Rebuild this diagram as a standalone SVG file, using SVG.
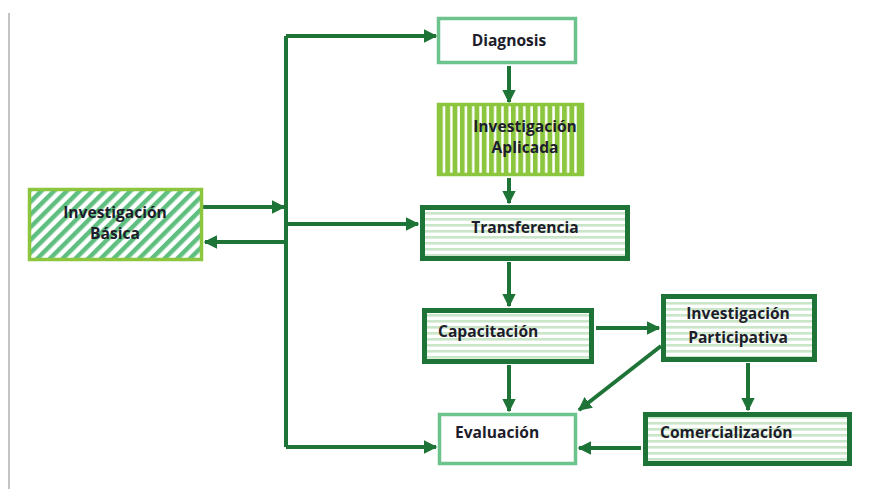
<svg xmlns="http://www.w3.org/2000/svg" width="871" height="489" viewBox="0 0 871 489">
  <defs>
    <!-- diagonal hatch for the basic research box -->
    <pattern id="hatchDiag" patternUnits="userSpaceOnUse" width="9" height="9" patternTransform="rotate(45)">
      <rect width="9" height="9" fill="#ffffff"/>
      <rect width="4.5" height="9" fill="#5fbf80"/>
    </pattern>
    <!-- vertical stripes for the applied research box -->
    <pattern id="stripesV" patternUnits="userSpaceOnUse" width="7.3" height="10">
      <rect width="7.3" height="10" fill="#8cc63e"/>
      <rect x="4.8" width="2.5" height="10" fill="#ffffff"/>
    </pattern>
    <!-- pale horizontal stripes for the dark-framed boxes -->
    <pattern id="stripesH" patternUnits="userSpaceOnUse" width="10" height="6">
      <rect width="10" height="6" fill="#ffffff"/>
      <rect y="2" width="10" height="2.6" fill="#cae6c8"/>
    </pattern>
    <marker id="arrow" viewBox="0 0 10 10" refX="9" refY="5" markerWidth="3.4" markerHeight="3.4" orient="auto" markerUnits="strokeWidth">
      <path d="M0,0 L10,5 L0,10 z" fill="#1e7337"/>
    </marker>
  </defs>
  <style>
    .lbl { font-family: "Open Sans", "Liberation Sans", sans-serif; font-weight: 700; font-size: 15.6px; fill: #1d1d2b; }
    .mid { text-anchor: middle; }
    .wire { fill: none; stroke: #1e7337; stroke-width: 4; }
    .tip { marker-end: url(#arrow); }
    .light { stroke: #8cc63e; stroke-width: 3.5; }
    .mint { stroke: #6cc38b; stroke-width: 3.5; fill: #ffffff; }
    .dark { stroke: #1e7337; stroke-width: 5; fill: url(#stripesH); }
  </style>

  <rect width="871" height="489" fill="#ffffff"/>
  <line x1="9" y1="13" x2="9" y2="489" stroke="#c4c4c4" stroke-width="2"/>

  <g id="connectors">
    <!-- vertical bus -->
    <path class="wire" d="M286,36 L286,447"/>
    <path class="wire tip" d="M286,36 L436,36"/>
    <path class="wire tip" d="M286,224 L418,224"/>
    <path class="wire tip" d="M286,447 L436,447"/>
    <path class="wire tip" d="M203,207 L284,207"/>
    <path class="wire tip" d="M286,242 L205,242"/>
    <!-- main column -->
    <path class="wire tip" d="M509,66 L509,102"/>
    <path class="wire tip" d="M509,178 L509,203"/>
    <path class="wire tip" d="M509,262 L509,306"/>
    <path class="wire tip" d="M509,365 L509,411"/>
    <!-- right branch -->
    <path class="wire tip" d="M596,328 L659,328"/>
    <path class="wire tip" d="M661,346 L579,410"/>
    <path class="wire tip" d="M748,363 L748,410"/>
    <path class="wire tip" d="M641,448 L579,448"/>
  </g>

  <g id="basica">
    <rect x="29.5" y="189.5" width="172" height="70" fill="url(#hatchDiag)" class="light"/>
    <text class="lbl mid" x="115" y="218">Investigación</text>
    <text class="lbl mid" x="115" y="239">Básica</text>
  </g>

  <g id="diagnosis">
    <rect x="438.5" y="18.5" width="137" height="44" class="mint"/>
    <text class="lbl mid" x="509" y="46">Diagnosis</text>
  </g>

  <g id="aplicada">
    <rect x="438.5" y="104.5" width="144" height="70" fill="url(#stripesV)" class="light"/>
    <text class="lbl mid" x="525" y="132">Investigación</text>
    <text class="lbl mid" x="525" y="153">Aplicada</text>
  </g>

  <g id="transferencia">
    <rect x="422.5" y="207.5" width="205" height="51" class="dark"/>
    <text class="lbl mid" x="525" y="233">Transferencia</text>
  </g>

  <g id="capacitacion">
    <rect x="424.5" y="310.5" width="167" height="51" class="dark"/>
    <text class="lbl" x="438" y="337">Capacitación</text>
  </g>

  <g id="participativa">
    <rect x="663.5" y="296.5" width="151" height="63" class="dark"/>
    <text class="lbl mid" x="738" y="319">Investigación</text>
    <text class="lbl mid" x="738" y="343">Participativa</text>
  </g>

  <g id="evaluacion">
    <rect x="439.5" y="414.5" width="136" height="49" class="mint"/>
    <text class="lbl" x="455" y="438">Evaluación</text>
  </g>

  <g id="comercializacion">
    <rect x="645.5" y="414.5" width="204" height="49" class="dark"/>
    <text class="lbl" x="660" y="438">Comercialización</text>
  </g>
</svg>
